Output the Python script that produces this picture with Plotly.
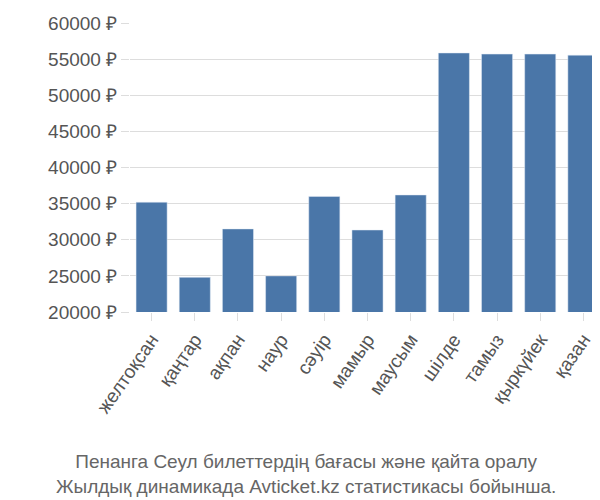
import plotly.graph_objects as go

months = ["желтоқсан","қаңтар","ақпан","наур","сәуір","мамыр","маусым","шілде","тамыз","қыркүйек","қазан"]
prices = [35200, 24800, 31500, 25000, 36000, 31350, 36200, 55850, 55700, 55700, 55550]
yticks = [20000, 25000, 30000, 35000, 40000, 45000, 50000, 55000, 60000]

fig = go.Figure(go.Bar(x=months, y=prices, marker_color="#4a76a8", width=0.72))
fig.update_layout(
    width=600, height=500, plot_bgcolor="white", paper_bgcolor="white",
    margin=dict(l=122, r=3, t=15, b=196, autoexpand=False),
    font=dict(family="Liberation Sans, Arial", size=18, color="#555"),
    showlegend=False,
    annotations=[dict(text="Пенанга Сеул билеттердің бағасы және қайта оралу<br>Жылдық динамикада Avticket.kz статистикасы бойынша.",
                      xref="paper", yref="paper", x=0.37, y=-0.56, showarrow=False,
                      font=dict(size=19, color="#666"), xanchor="center", yanchor="middle")]
)
fig.update_yaxes(range=[20000, 60000], tickvals=yticks, ticktext=[f"{v} ₽" for v in yticks],
                 showgrid=True, gridcolor="#ddd", ticks="outside", ticklen=8, tickcolor="#ddd",
                 tickfont=dict(size=19, color="#555"), automargin=False)
fig.update_xaxes(tickangle=-55, showgrid=False, tickfont=dict(size=19, color="#555"),
                 ticks="outside", ticklen=8, tickcolor="#ddd", range=[-0.5, 10.5], automargin=False)
fig.write_html("out.html")
